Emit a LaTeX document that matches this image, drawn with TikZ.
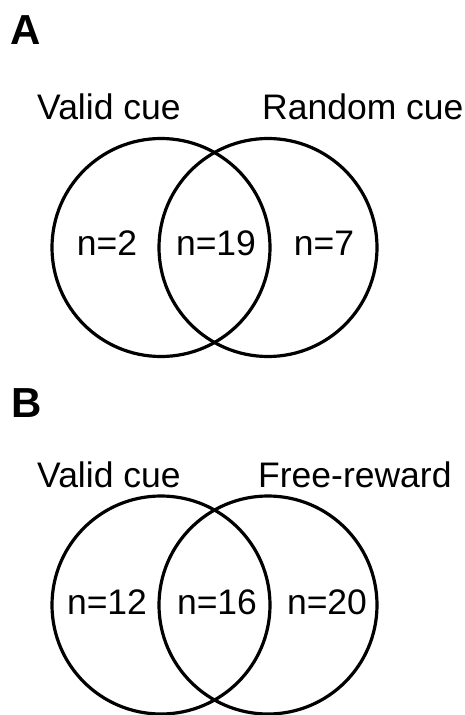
\documentclass[tikz,border=0pt]{standalone}
\usepackage{fontspec}
\setmainfont{Liberation Sans}
\begin{document}
\begin{tikzpicture}[x=1pt,y=-1pt,
  venn/.style={circle,draw=black,line width=3.2pt,minimum size=218pt,inner sep=0pt},
  lbl/.style={inner sep=0pt,font=\fontsize{35.5}{40}\selectfont},
  panel/.style={inner sep=0pt,anchor=west,font=\fontsize{42}{46}\selectfont\bfseries}]
\useasboundingbox[fill=white] (0,0) rectangle (464,715);
% Panel A
\node[panel] (pA) at (10,30) {A};
\node[lbl,anchor=base west] (tA1) at (37,119) {Valid cue};
\node[lbl,anchor=base west] (tA2) at (262,119) {Random cue};
\node[venn] (cA1) at (161,247.5) {};
\node[venn] (cA2) at (268,247.5) {};
\node[lbl,anchor=base] (nA1) at (107,255) {n=2};
\node[lbl,anchor=base] (nA2) at (216,255) {n=19};
\node[lbl,anchor=base] (nA3) at (324,255) {n=7};
% Panel B
\node[panel] (pB) at (11,403.5) {B};
\node[lbl,anchor=base west] (tB1) at (37,487) {Valid cue};
\node[lbl,anchor=base west] (tB2) at (258,487) {Free-reward};
\node[venn] (cB1) at (161,605) {};
\node[venn] (cB2) at (268,605) {};
\node[lbl,anchor=base] (nB1) at (107,614) {n=12};
\node[lbl,anchor=base] (nB2) at (217,614) {n=16};
\node[lbl,anchor=base] (nB3) at (327,614) {n=20};
\end{tikzpicture}
\end{document}
